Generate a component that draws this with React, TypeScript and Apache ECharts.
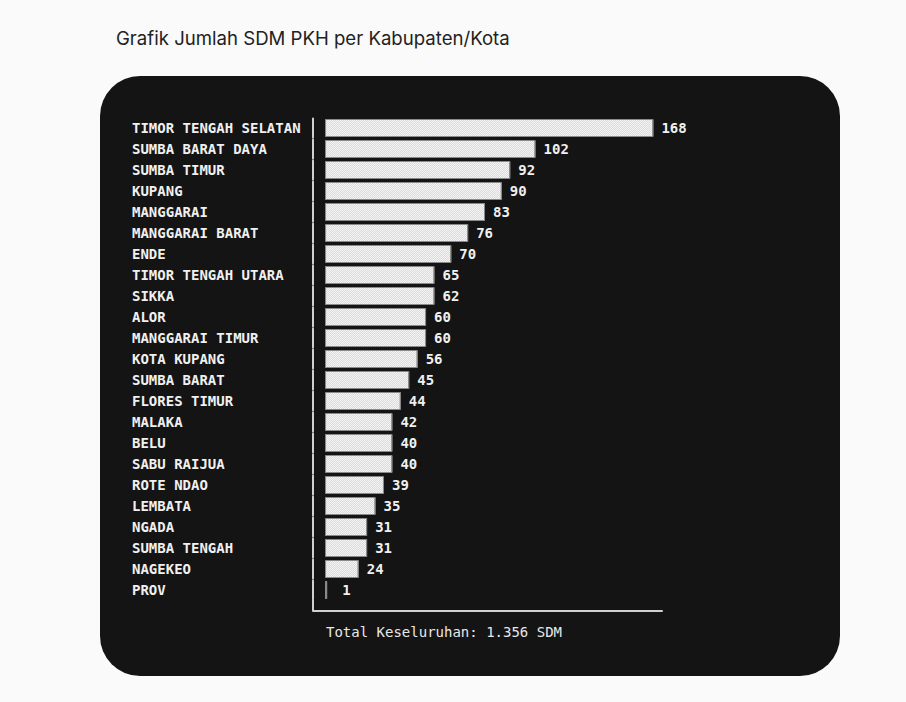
import { useEffect, useRef } from "react";
import * as echarts from "echarts";

const categories = [
  "TIMOR TENGAH SELATAN",
  "SUMBA BARAT DAYA",
  "SUMBA TIMUR",
  "KUPANG",
  "MANGGARAI",
  "MANGGARAI BARAT",
  "ENDE",
  "TIMOR TENGAH UTARA",
  "SIKKA",
  "ALOR",
  "MANGGARAI TIMUR",
  "KOTA KUPANG",
  "SUMBA BARAT",
  "FLORES TIMUR",
  "MALAKA",
  "BELU",
  "SABU RAIJUA",
  "ROTE NDAO",
  "LEMBATA",
  "NGADA",
  "SUMBA TENGAH",
  "NAGEKEO",
  "PROV",
];

// jumlah SDM (shown as labels)
const values = [168, 102, 92, 90, 83, 76, 70, 65, 62, 60, 60, 56, 45, 44, 42, 40, 40, 39, 35, 31, 31, 24, 1];

// drawn bar length in character cells
const barCells = [39, 25, 22, 21, 19, 17, 15, 13, 13, 12, 12, 11, 10, 9, 8, 8, 8, 7, 6, 5, 5, 4, 0.25];

const chartTitle = "Grafik Jumlah SDM PKH per Kabupaten/Kota";

const mono = '"DejaVu Sans Mono", "Liberation Mono", monospace';

export default function App() {
  const chartRef = useRef<HTMLDivElement>(null);

  useEffect(() => {
    if (!chartRef.current) return;
    const chart = echarts.init(chartRef.current, null, { renderer: "svg" });

    const total = values.reduce((a, b) => a + b, 0);
    const totalText = `Total Keseluruhan: ${total.toLocaleString("de-DE")} SDM`;

    // the 1-cell bar is drawn as a thin "│", label sits one space further
    const barData = barCells.map((c) =>
      c < 1 ? { value: c, label: { distance: 15 } } : c
    );

    const option = {
      animation: false,
      backgroundColor: "#fafafa",
      title: {
        text: chartTitle,
        left: 111,
        top: 23,
        textStyle: {
          fontFamily: "Inter, Roboto, sans-serif",
          fontSize: 18.6,
          fontWeight: "normal",
          color: "#222222",
        },
      },
      graphic: [
        {
          type: "rect",
          z: -10,
          shape: { x: 100, y: 76, width: 740, height: 600, r: 40 },
          style: { fill: "#141414" },
        },
        {
          type: "line",
          z: 10,
          shape: { x1: 313, y1: 600, x2: 313, y2: 611 },
          style: { stroke: "#d0d0d0", lineWidth: 2 },
        },
        {
          type: "text",
          x: 326,
          y: 632,
          style: {
            text: totalText,
            fill: "#e8e8e8",
            font: `500 14px ${mono}`,
            verticalAlign: "middle",
          },
        },
      ],
      grid: {
        left: 313,
        top: 117.5,
        width: 349,
        height: 483,
        containLabel: false,
      },
      xAxis: {
        type: "value",
        min: -1.43,
        max: 40.02,
        offset: 10,
        axisLine: {
          show: true,
          onZero: false,
          lineStyle: { color: "#d0d0d0", width: 2 },
        },
        axisTick: { show: false },
        axisLabel: { show: false },
        splitLine: { show: false },
      },
      yAxis: {
        type: "category",
        inverse: true,
        data: categories,
        axisLine: {
          show: true,
          onZero: false,
          lineStyle: { color: "#d0d0d0", width: 2, type: [19, 2], dashOffset: 20 },
        },
        axisTick: { show: false },
        axisLabel: {
          align: "left",
          margin: 181,
          color: "#f0f0f0",
          fontFamily: mono,
          fontWeight: "bold",
          fontSize: 14,
        },
      },
      series: [
        {
          type: "bar",
          data: barData,
          barWidth: 18,
          itemStyle: {
            color: "#f4f4f4",
            borderColor: "#8a8a8a",
            borderWidth: 1,
            decal: {
              symbol: "rect",
              symbolSize: 1,
              color: "rgba(0,0,0,0.1)",
              dashArrayX: [
                [1, 1],
                [0, 1, 1, 0],
              ],
              dashArrayY: [1, 0],
            },
          },
          label: {
            show: true,
            position: "right",
            distance: 8,
            color: "#f0f0f0",
            fontFamily: mono,
            fontWeight: "bold",
            fontSize: 14,
            formatter: (p: { dataIndex: number }) => String(values[p.dataIndex]),
          },
        },
      ],
    };

    chart.setOption(option);
    return () => {
      chart.dispose();
    };
  }, []);

  return (
    <div
      ref={chartRef}
      style={{ position: "absolute", left: 0, top: 0, width: 906, height: 702 }}
    ></div>
  );
}
